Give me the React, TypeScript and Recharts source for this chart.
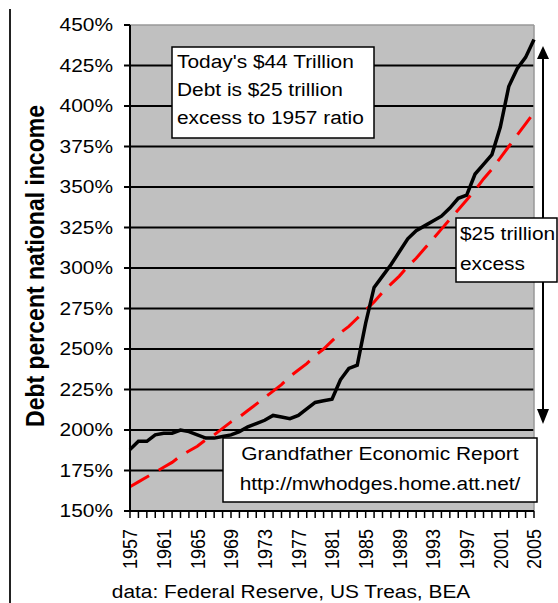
import React from "react"
import { CartesianGrid, Line, LineChart, ReferenceLine, XAxis, YAxis } from "recharts"

// years on the category axis (one tick per year)
const YEARS = [
  1957, 1958, 1959, 1960, 1961, 1962, 1963, 1964, 1965, 1966, 1967, 1968, 1969,
  1970, 1971, 1972, 1973, 1974, 1975, 1976, 1977, 1978, 1979, 1980, 1981, 1982,
  1983, 1984, 1985, 1986, 1987, 1988, 1989, 1990, 1991, 1992, 1993, 1994, 1995,
  1996, 1997, 1998, 1999, 2000, 2001, 2002, 2003, 2004, 2005,
]

// total debt as % of national income
const DEBT = [
  188, 193, 193, 197, 198, 198, 200, 199, 197, 195, 195, 196, 197,
  199, 202, 204, 206, 209, 208, 207, 209, 213, 217, 218, 219, 231,
  238, 240, 266, 288, 295, 302, 310, 318, 323, 326, 329, 332, 337,
  343, 345, 358, 364, 370, 387, 412, 423, 430, 441,
]

// path at the 1957 ratio
const TREND = [
  165, 168, 171, 174, 177, 180, 184, 187, 190, 194, 197, 201, 205,
  208, 212, 216, 220, 224, 228, 233, 237, 241, 246, 250, 255, 260,
  264, 269, 274, 279, 285, 290, 295, 301, 306, 312, 318, 324, 330,
  336, 342, 348, 355, 361, 368, 375, 382, 389, 396,
]

const Y_TICKS = [150, 175, 200, 225, 250, 275, 300, 325, 350, 375, 400, 425, 450]
const GRID_VALUES = [175, 200, 225, 250, 275, 300, 325, 350, 375, 400, 425]
const X_LABELS = [1957, 1961, 1965, 1969, 1973, 1977, 1981, 1985, 1989, 1993, 1997, 2001, 2005]

const data = YEARS.map((year, i) => ({ year, debt: DEBT[i], trend: TREND[i] }))

const FONT = "'Liberation Sans', Arial, sans-serif"
const SX = 1.16

const YTick = (props: any) => {
  const { y, payload } = props
  return (
    <text
      transform={`translate(113,${y}) scale(${SX},1)`}
      textAnchor="end"
      dominantBaseline="central"
      fontSize={18}
      fontFamily={FONT}
      fill="#000"
    >
      {payload.value}%
    </text>
  )
}

const XTick = (props: any) => {
  const { x, payload } = props
  if (!X_LABELS.includes(payload.value)) return null
  return (
    <text
      transform={`translate(${x},529) scale(${SX},1) rotate(-90)`}
      textAnchor="end"
      dominantBaseline="central"
      fontSize={18}
      fontFamily={FONT}
      fill="#000"
    >
      {payload.value}
    </text>
  )
}

const noteText = { fontSize: 18, fontFamily: FONT, fill: "#000" }

export default function App() {
  return (
    <div style={{ position: "absolute", left: 0, top: 0, width: 558, height: 603, background: "#fff" }}>
      <LineChart width={558} height={603} data={data} margin={{ top: 25, right: 24, left: 0, bottom: 30 }}>
        <CartesianGrid
          vertical={false}
          horizontalValues={GRID_VALUES}
          stroke="#000"
          strokeWidth={2}
          fill="#c0c0c0"
          fillOpacity={1}
        />
        <XAxis
          dataKey="year"
          type="number"
          domain={[1957, 2005]}
          ticks={YEARS}
          interval={0}
          height={62}
          axisLine={{ stroke: "#000", strokeWidth: 2 }}
          tickLine={{ stroke: "#000", strokeWidth: 1.5 }}
          tickSize={7}
          tick={<XTick />}
        />
        <YAxis
          domain={[150, 450]}
          ticks={Y_TICKS}
          width={130}
          axisLine={{ stroke: "#000", strokeWidth: 2 }}
          tickLine={{ stroke: "#000", strokeWidth: 2 }}
          tickSize={6}
          tick={<YTick />}
        />
        <ReferenceLine y={450} stroke="#999" strokeWidth={1.5} />
        <ReferenceLine x={2005} stroke="#999" strokeWidth={1.5} />
        <Line
          dataKey="trend"
          stroke="#ff0000"
          strokeWidth={3}
          strokeDasharray="22 11"
          dot={false}
          isAnimationActive={false}
        />
        <Line dataKey="debt" stroke="#000" strokeWidth={3.5} dot={false} isAnimationActive={false} />
      </LineChart>

      <svg width={558} height={603} style={{ position: "absolute", left: 0, top: 0, pointerEvents: "none" }}>
        {/* left frame line */}
        <line x1={10} y1={9} x2={10} y2={603} stroke="#222" strokeWidth={2} />

        {/* axis title */}
        <text
          transform={`translate(34,266) scale(${SX},1) rotate(-90)`}
          textAnchor="middle"
          dominantBaseline="central"
          fontSize={23}
          fontWeight="bold"
          fontFamily={FONT}
          fill="#000"
        >
          Debt percent national income
        </text>

        {/* excess arrow */}
        <line x1={543} y1={56} x2={543} y2={412} stroke="#000" strokeWidth={2} />
        <polygon points="543,46 537,59 549,59" fill="#000" />
        <polygon points="543,424 537,409 549,409" fill="#000" />

        {/* note: today's debt */}
        <rect x={172} y={47} width={202} height={91} fill="#fff" stroke="#000" strokeWidth={1.5} />
        <text transform={`translate(177,62) scale(${SX},1)`} dominantBaseline="central" {...noteText}>
          Today's $44 Trillion
        </text>
        <text transform={`translate(177,90) scale(${SX},1)`} dominantBaseline="central" {...noteText}>
          Debt is $25 trillion
        </text>
        <text transform={`translate(177,118) scale(${SX},1)`} dominantBaseline="central" {...noteText}>
          excess to 1957 ratio
        </text>

        {/* note: $25 trillion excess */}
        <rect x={456} y={218} width={101} height={64} fill="#fff" stroke="#000" strokeWidth={1.5} />
        <text transform={`translate(460,234) scale(${SX},1)`} dominantBaseline="central" {...noteText}>
          $25 trillion
        </text>
        <text transform={`translate(460,264) scale(${SX},1)`} dominantBaseline="central" {...noteText}>
          excess
        </text>

        {/* note: source site */}
        <rect x={223} y={438} width={314} height={64} fill="#fff" stroke="#000" strokeWidth={1.5} />
        <text transform={`translate(380,454) scale(${SX},1)`} textAnchor="middle" dominantBaseline="central" {...noteText}>
          Grandfather Economic Report
        </text>
        <text transform={`translate(380,484) scale(${SX},1)`} textAnchor="middle" dominantBaseline="central" {...noteText}>
          http://mwhodges.home.att.net/
        </text>

        {/* data source */}
        <text transform={`translate(291,592) scale(${SX},1)`} textAnchor="middle" dominantBaseline="central" {...noteText}>
          data: Federal Reserve, US Treas, BEA
        </text>
      </svg>
    </div>
  )
}
